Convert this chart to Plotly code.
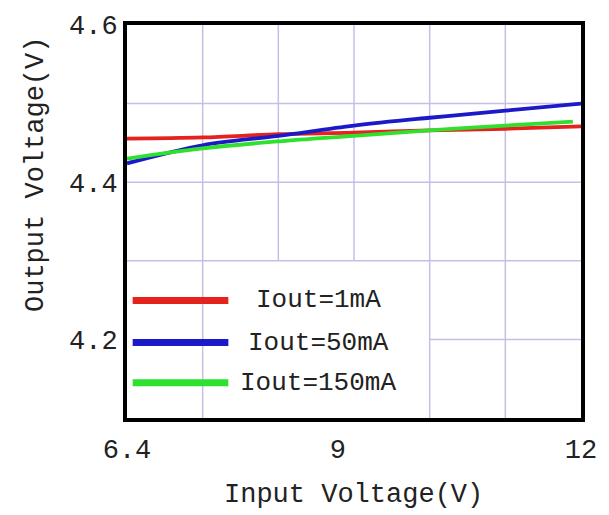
import plotly.graph_objects as go

# ---- data ----
vin = [6.4, 7.333, 8.267, 9.2, 10.133, 11.067, 12.0]
vin_150 = [6.4, 7.333, 8.267, 9.2, 10.133, 11.067, 11.9]
vout_1mA = [4.4555, 4.457, 4.461, 4.463, 4.466, 4.468, 4.471]
vout_50mA = [4.424, 4.447, 4.459, 4.472, 4.482, 4.491, 4.500]
vout_150mA = [4.430, 4.443, 4.452, 4.459, 4.466, 4.472, 4.477]

labels = ["Iout=1mA", "Iout=50mA", "Iout=150mA"]
colors = ["#e4231f", "#1c1ac8", "#2fe02f"]

x_ticks = [6.4, 9, 12]
x_ticklabels = ["6.4", "9", "12"]
y_ticks = [4.2, 4.4, 4.6]
y_ticklabels = ["4.2", "4.4", "4.6"]

FONT = "Liberation Mono"
TXT = "#222222"
GRID = "#c9bde6"

fig = go.Figure()
series = [(vin, vout_1mA), (vin, vout_50mA), (vin_150, vout_150mA)]
for (xs, ys), name, c in zip(series, labels, colors):
    fig.add_trace(go.Scatter(x=xs, y=ys, mode="lines", name=name,
                             line=dict(color=c, width=3.8, shape="spline"),
                             showlegend=False, hoverinfo="skip"))

shapes = []
# irregular grid (partly hidden behind the legend box)
gx = [6.4 + k * 5.6 / 6 for k in range(1, 6)]
for i, x in enumerate(gx):
    y0 = 4.1 if i in (0, 3, 4) else 4.3
    shapes.append(dict(type="line", xref="x", yref="y", x0=x, x1=x, y0=y0, y1=4.6,
                       line=dict(color=GRID, width=1.5), layer="below"))
for y in [4.3, 4.4, 4.5]:
    shapes.append(dict(type="line", xref="x", yref="y", x0=6.4, x1=12, y0=y, y1=y,
                       line=dict(color=GRID, width=1.5), layer="below"))
shapes.append(dict(type="line", xref="x", yref="y", x0=gx[3], x1=12, y0=4.2, y1=4.2,
                   line=dict(color=GRID, width=1.5), layer="below"))

# custom legend
annotations = []
leg_y = [4.2495, 4.196, 4.145]
for yy, name, c in zip(leg_y, labels, colors):
    shapes.append(dict(type="line", xref="x", yref="y", x0=6.47, x1=7.65, y0=yy, y1=yy,
                       line=dict(color=c, width=7)))
    annotations.append(dict(x=8.76, y=yy, xref="x", yref="y", text=name, showarrow=False,
                            xanchor="center", yanchor="middle",
                            font=dict(family=FONT, size=26, color=TXT)))

# axis titles placed as in the reference
annotations.append(dict(x=-0.199, y=0.62, xref="paper", yref="paper",
                        text="Output Voltage(V)", textangle=-90, showarrow=False,
                        xanchor="center", yanchor="middle",
                        font=dict(family=FONT, size=27, color=TXT)))
annotations.append(dict(x=0.498, y=-0.196, xref="paper", yref="paper",
                        text="Input Voltage(V)", showarrow=False,
                        xanchor="center", yanchor="middle",
                        font=dict(family=FONT, size=27, color=TXT)))

fig.update_layout(
    width=609, height=515,
    margin=dict(l=127, r=20, t=20, b=97),
    paper_bgcolor="white", plot_bgcolor="white",
    shapes=shapes, annotations=annotations,
    font=dict(family=FONT, size=27, color=TXT),
    xaxis=dict(range=[6.4, 12], tickvals=x_ticks, ticktext=x_ticklabels,
               showgrid=False, zeroline=False, ticks="", ticklabelstandoff=4,
               showline=True, mirror=True, linecolor="black", linewidth=4,
               tickfont=dict(family=FONT, size=27, color=TXT)),
    yaxis=dict(range=[4.1, 4.6], tickvals=y_ticks, ticktext=y_ticklabels,
               showgrid=False, zeroline=False, ticks="",
               showline=True, mirror=True, linecolor="black", linewidth=4,
               tickfont=dict(family=FONT, size=27, color=TXT)),
)

fig.write_html("out.html")
